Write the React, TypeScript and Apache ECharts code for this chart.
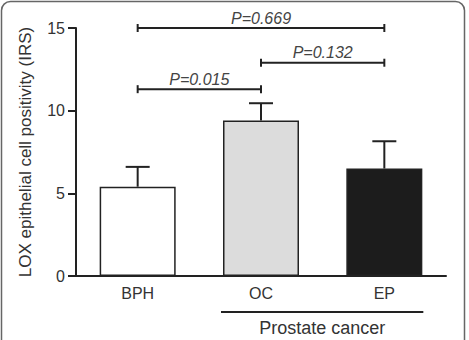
import React, { useEffect, useRef } from "react";
import * as echarts from "echarts";

const categories = ["BPH", "OC", "EP"];
const means = [5.4, 9.4, 6.5];
const upperErrors = [6.6, 10.45, 8.15];
const barColors = ["#ffffff", "#dcdcdc", "#1c1c1c"];
const yTicks = [0, 5, 10, 15];
// [from category index, to category index, bracket height, label]
const brackets: [number, number, number, string][] = [
  [0, 2, 15, "P=0.669"],
  [1, 2, 12.9, "P=0.132"],
  [0, 1, 11.3, "P=0.015"],
];
const groupLabel = "Prostate cancer";
const yTitle = "LOX epithelial cell positivity (IRS)";

const FONT = "'Liberation Sans', Arial, sans-serif";
const INK = "#222222";

export default function App() {
  const ref = useRef<HTMLDivElement>(null);

  useEffect(() => {
    if (!ref.current) return;
    const chart = echarts.init(ref.current, undefined, { renderer: "svg" });

    chart.setOption({
      animation: false,
      backgroundColor: "#ffffff",
      grid: { left: 76, right: 23, top: 28, bottom: 64 },
      xAxis: {
        type: "category",
        data: categories,
        axisLine: { lineStyle: { color: INK, width: 2 } },
        axisTick: { alignWithLabel: true, length: 7, lineStyle: { color: INK, width: 2 } },
        axisLabel: { color: "#333", fontSize: 16, fontFamily: FONT, margin: 9 },
      },
      yAxis: {
        type: "value",
        min: yTicks[0],
        max: yTicks[yTicks.length - 1],
        interval: 5,
        name: yTitle,
        nameLocation: "middle",
        nameGap: 42,
        nameTextStyle: { color: "#333", fontSize: 17, fontFamily: FONT },
        splitLine: { show: false },
        axisLine: { show: true, lineStyle: { color: INK, width: 2 } },
        axisTick: { show: true, length: 8, lineStyle: { color: INK, width: 2 } },
        axisLabel: { color: "#333", fontSize: 16, fontFamily: FONT, margin: 11 },
      },
      series: [
        {
          type: "bar",
          barWidth: 76,
          data: means.map((v, i) => ({
            value: v,
            itemStyle: { color: barColors[i], borderColor: INK, borderWidth: 1.5 },
          })),
          z: 2,
        },
        {
          // upper error whiskers
          type: "custom",
          z: 3,
          clip: false,
          data: means.map((v, i) => [i, v, upperErrors[i]]),
          renderItem: (_params: any, api: any) => {
            const base = api.coord([api.value(0), api.value(1)]);
            const top = api.coord([api.value(0), api.value(2)]);
            const half = 12;
            const style = { stroke: INK, lineWidth: 2 };
            return {
              type: "group",
              children: [
                { type: "line", shape: { x1: base[0], y1: base[1], x2: top[0], y2: top[1] }, style },
                { type: "line", shape: { x1: top[0] - half, y1: top[1], x2: top[0] + half, y2: top[1] }, style },
              ],
            };
          },
        },
        {
          // significance brackets
          type: "custom",
          z: 4,
          clip: false,
          data: brackets.map((b) => [b[0], b[1], b[2], b[3]]),
          renderItem: (params: any, api: any) => {
            const b = brackets[params.dataIndex];
            const p1 = api.coord([b[0], b[2]]);
            const p2 = api.coord([b[1], b[2]]);
            const style = { stroke: INK, lineWidth: 2 };
            const t = 4;
            return {
              type: "group",
              children: [
                { type: "line", shape: { x1: p1[0], y1: p1[1], x2: p2[0], y2: p2[1] }, style },
                { type: "line", shape: { x1: p1[0], y1: p1[1] - t, x2: p1[0], y2: p1[1] + t }, style },
                { type: "line", shape: { x1: p2[0], y1: p2[1] - t, x2: p2[0], y2: p2[1] + t }, style },
                {
                  type: "text",
                  x: (p1[0] + p2[0]) / 2,
                  y: p1[1] - 2,
                  style: {
                    text: b[3],
                    fontSize: 16,
                    fontStyle: "italic",
                    fontFamily: FONT,
                    fill: "#444",
                    align: "center",
                    verticalAlign: "bottom",
                  },
                },
              ],
            };
          },
        },
      ],
    });

    // group underline below the prostate cancer categories
    const oc = chart.convertToPixel({ xAxisIndex: 0 }, categories[1]) as number;
    const ep = chart.convertToPixel({ xAxisIndex: 0 }, categories[2]) as number;
    const left = oc - 40;
    const right = ep + 39;
    chart.setOption({
      graphic: [
        {
          type: "line",
          shape: { x1: left, y1: 312, x2: right, y2: 312 },
          style: { stroke: INK, lineWidth: 2 },
        },
        {
          type: "text",
          x: (left + right) / 2,
          y: 328,
          style: {
            text: groupLabel,
            fontSize: 18,
            fontFamily: FONT,
            fill: "#333",
            align: "center",
            verticalAlign: "middle",
          },
        },
        {
          type: "rect",
          shape: { x: 1.5, y: 1.5, width: 463, height: 380, r: 9 },
          style: { fill: "none", stroke: "#666", lineWidth: 1.5 },
          z: 10,
        },
      ],
    });

    return () => chart.dispose();
  }, []);

  return (
    <div
      ref={ref}
      style={{ position: "absolute", left: 0, top: 0, width: 469, height: 340 }}
    />
  );
}
